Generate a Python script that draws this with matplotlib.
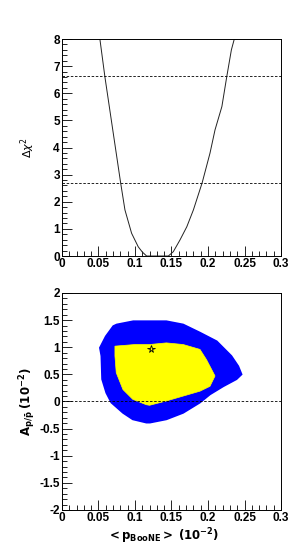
import matplotlib
matplotlib.use("Agg")
import matplotlib.pyplot as plt
from matplotlib.ticker import MultipleLocator

# delta chi2 profile
p_boone = [0.048, 0.052, 0.0589, 0.0703, 0.0804, 0.0863, 0.0954, 0.1045, 0.110, 0.116, 0.125,
           0.135, 0.1457, 0.1525, 0.1616, 0.171, 0.180, 0.192, 0.2027, 0.2096, 0.219, 0.2256,
           0.232, 0.236, 0.240]
dchi2 = [9.5, 8.0, 6.6, 4.53, 2.7, 1.70, 0.84, 0.34, 0.15, 0.0, 0.0,
         0.0, 0.0, 0.16, 0.59, 1.08, 1.70, 2.7, 3.79, 4.65, 5.51, 6.6,
         7.6, 8.0, 8.0]
cl_levels = [2.71, 6.63]

# allowed region outlines (blue = outer, yellow = inner)
blue_x = [0.0703, 0.060, 0.052, 0.054, 0.055, 0.0607, 0.0676, 0.0836, 0.097, 0.1156, 0.1205,
          0.143, 0.166, 0.189, 0.2027, 0.221, 0.239, 0.246, 0.2415, 0.232, 0.212, 0.189,
          0.166, 0.143, 0.120, 0.0977, 0.075]
blue_y = [1.39, 1.20, 0.99, 0.84, 0.41, 0.16, -0.02, -0.21, -0.33, -0.39, -0.39,
          -0.33, -0.21, -0.02, 0.13, 0.28, 0.41, 0.50, 0.65, 0.84, 1.11, 1.27,
          1.42, 1.48, 1.48, 1.48, 1.42]
yellow_x = [0.0726, 0.100, 0.120, 0.143, 0.166, 0.189, 0.198, 0.205, 0.2096, 0.2027, 0.189,
            0.166, 0.143, 0.120, 0.1156, 0.097, 0.0836, 0.0744, 0.0726]
yellow_y = [1.02, 1.05, 1.05, 1.08, 1.05, 0.96, 0.77, 0.59, 0.47, 0.28, 0.19,
            0.10, 0.01, -0.07, -0.06, 0.04, 0.22, 0.53, 0.84]
best_fit = (0.1215, 0.97)

plt.rcParams["font.family"] = ["Liberation Sans", "DejaVu Sans"]

fig = plt.figure(figsize=(2.99, 5.55), dpi=100)
ax1 = fig.add_axes([0.207, 0.5387, 0.733, 0.391])
ax2 = fig.add_axes([0.207, 0.0811, 0.733, 0.391])


def style(ax, ymaj, ymin):
    ax.xaxis.set_major_locator(MultipleLocator(0.05))
    ax.xaxis.set_minor_locator(MultipleLocator(0.01))
    ax.yaxis.set_major_locator(MultipleLocator(ymaj))
    ax.yaxis.set_minor_locator(MultipleLocator(ymin))
    ax.tick_params(which="both", direction="in", top=False, right=False,
                   labelsize=8.5, width=0.6, pad=1.5)
    ax.tick_params(which="major", length=7)
    ax.tick_params(which="minor", length=3.5)
    for lab in ax.get_xticklabels() + ax.get_yticklabels():
        lab.set_fontweight("bold")
    for s in ax.spines.values():
        s.set_linewidth(0.7)
    ax.xaxis.set_major_formatter(plt.FuncFormatter(lambda v, p: ("%g" % round(v, 3))))
    ax.yaxis.set_major_formatter(plt.FuncFormatter(lambda v, p: ("%g" % round(v, 3))))


# top panel
ax1.plot(p_boone, dchi2, color="#222222", lw=0.7)
for lvl in cl_levels:
    ax1.axhline(lvl, color="black", lw=0.6, ls=(0, (3, 2)))
ax1.set_xlim(0, 0.3)
ax1.set_ylim(0, 8)
style(ax1, 1, 0.2)
ax1.set_ylabel(r"$\Delta\chi^2$", fontsize=8, labelpad=12)

# bottom panel
ax2.fill(blue_x, blue_y, color="blue", lw=1.2, ec="blue")
ax2.fill(yellow_x, yellow_y, color="yellow", lw=0.5, ec="yellow")
ax2.axhline(0, color="black", lw=0.6, ls=(0, (3, 2)))
ax2.plot(*best_fit, marker="*", ms=5.5, mfc="none", mec="black", mew=0.6)
ax2.set_xlim(0, 0.3)
ax2.set_ylim(-2, 2)
style(ax2, 0.5, 0.1)
ax2.set_ylabel(r"$\mathbf{A_{p/\bar{p}}}$ $\mathbf{(10^{-2})}$", fontsize=8.5, labelpad=1)
ax2.set_xlabel(r"$\mathbf{<p_{BooNE}>}$ $\mathbf{(10^{-2})}$", fontsize=8.5, labelpad=2)
ax2.xaxis.set_label_coords(0.46, -0.075)

fig.savefig("out.png", dpi=100)
